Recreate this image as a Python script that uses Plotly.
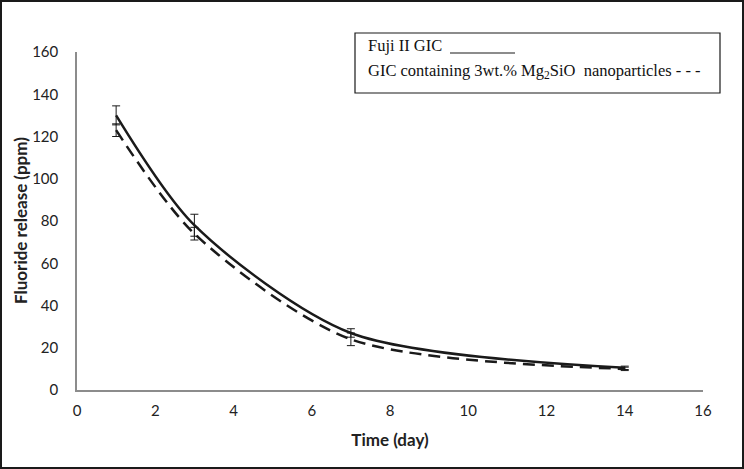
import plotly.graph_objects as go

days = [1, 3, 7, 14]
fuji = [130, 78, 27, 10.5]
fuji_err = [4.5, 5.2, 2.0, 0.8]
mg = [123, 74, 24, 10]
mg_err = [3.0, 3.0, 3.0, 0.8]

W, H = 744, 469
L, R, T, B = 77, 41, 52, 79
pw, ph = W - L - R, H - T - B

def px(x):
    return (x - L) / pw

def py(y):
    return (H - B - y) / ph

fig = go.Figure()
fig.add_trace(go.Scatter(
    x=days, y=fuji, mode="lines", line=dict(color="#1a1a1a", width=2.5, shape="spline", smoothing=0.8),
    error_y=dict(type="data", array=fuji_err, color="#1a1a1a", thickness=1, width=4),
    showlegend=False))
fig.add_trace(go.Scatter(
    x=days, y=mg, mode="lines", line=dict(color="#1a1a1a", width=2.5, dash="12px,7px", shape="spline", smoothing=0.8),
    error_y=dict(type="data", array=mg_err, color="#1a1a1a", thickness=1, width=4),
    showlegend=False))

fig.update_layout(
    width=W, height=H, margin=dict(l=L, r=R, t=T, b=B),
    paper_bgcolor="white", plot_bgcolor="white",
    font=dict(family="Lato, Open Sans, Liberation Sans, sans-serif", size=15, color="#222"),
    xaxis=dict(range=[0, 16], tickvals=list(range(0, 17, 2)), showgrid=False, zeroline=False,
               showline=True, linecolor="#8c8c8c", linewidth=1.5, ticks="", ticklabelstandoff=6,
               automargin=False,
               title=dict(text="<b>Time (day)</b>", font=dict(size=17), standoff=16)),
    yaxis=dict(range=[0, 160], tickvals=list(range(0, 161, 20)), showgrid=False, zeroline=False,
               showline=True, linecolor="#8c8c8c", linewidth=1.5, ticks="", ticklabelstandoff=14,
               automargin=False),
    shapes=[
        dict(type="rect", xref="paper", yref="paper", x0=px(1), x1=px(743), y0=py(1), y1=py(468),
             line=dict(color="#1a1a1a", width=2)),
        dict(type="rect", xref="paper", yref="paper", x0=px(355), x1=px(720), y0=py(33), y1=py(93),
             line=dict(color="#1a1a1a", width=1.2), fillcolor="white", layer="above"),
        dict(type="line", xref="paper", yref="paper", x0=px(450), x1=px(515), y0=py(53), y1=py(53),
             line=dict(color="#1a1a1a", width=1.2), layer="above"),
    ],
    annotations=[
        dict(xref="paper", yref="paper", x=px(20), y=0.5, xanchor="center", yanchor="middle",
             text="<b>Fluoride release (ppm)</b>", textangle=-90, showarrow=False,
             font=dict(size=17, color="#222")),
        dict(xref="paper", yref="paper", x=px(366), y=py(46), xanchor="left", yanchor="middle",
             text="Fuji II GIC", showarrow=False,
             font=dict(family="Liberation Serif, Times New Roman, serif", size=16.5, color="#111")),
        dict(xref="paper", yref="paper", x=px(366), y=py(71), xanchor="left", yanchor="middle",
             text="GIC containing 3wt.% Mg<sub>2</sub>SiO  nanoparticles - - -", showarrow=False,
             font=dict(family="Liberation Serif, Times New Roman, serif", size=16.5, color="#111")),
    ],
)

fig.write_html("out.html", config={"displayModeBar": False},
               post_script="document.body.style.margin='0';document.body.style.overflow='hidden';")
